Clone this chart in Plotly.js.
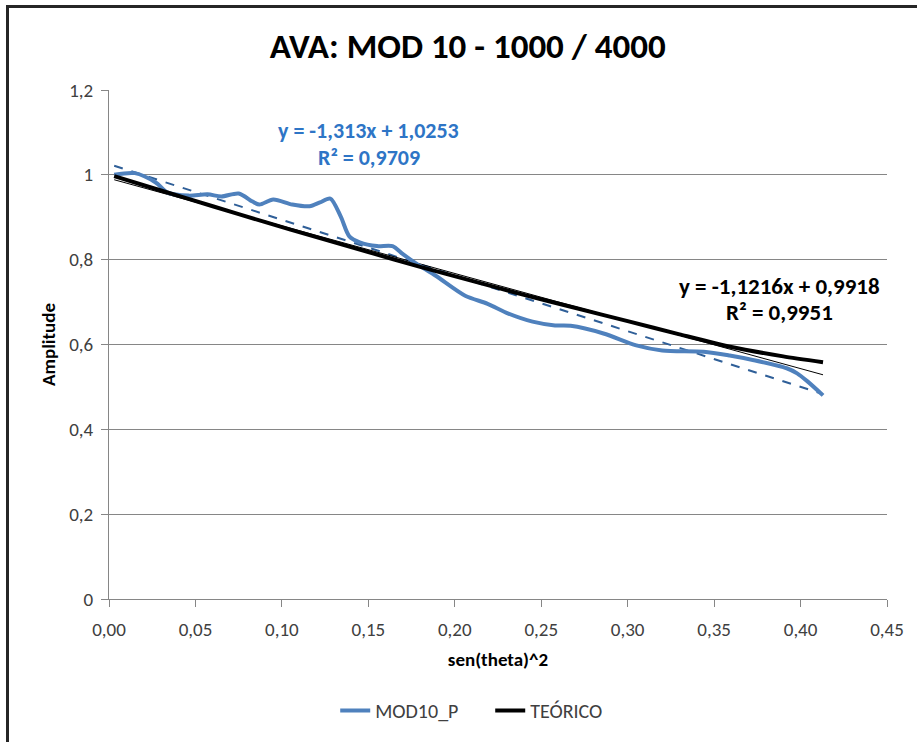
<!DOCTYPE html>
<html>
<head>
<meta charset="utf-8">
<script src="https://cdn.plot.ly/plotly-3.0.1.min.js"></script>
<style>
  html, body { margin: 0; padding: 0; background: #ffffff; overflow: hidden; }
  #chart { position: absolute; left: 0; top: 0; width: 917px; height: 742px; }
  #frame { position: absolute; left: 6px; top: 5px; width: 1000px; height: 1000px;
           border: 3px solid #262626; pointer-events: none; background: transparent; }
</style>
</head>
<body>
<div id="chart"></div>
<div id="frame"></div>
<script>
// Measured series MOD10_P (sen(theta)^2 vs amplitude)
const modX = [0.003, 0.015, 0.027, 0.034, 0.046, 0.057, 0.065, 0.075, 0.083, 0.087,
              0.095, 0.106, 0.116, 0.122, 0.128, 0.134, 0.139, 0.145, 0.155, 0.164,
              0.170, 0.178, 0.189, 0.206, 0.219, 0.231, 0.245, 0.258, 0.267, 0.286,
              0.305, 0.320, 0.344, 0.359, 0.373, 0.392, 0.398, 0.404, 0.413];
const modY = [1.000, 1.004, 0.982, 0.958, 0.951, 0.954, 0.949, 0.956, 0.937, 0.930,
              0.942, 0.930, 0.926, 0.935, 0.944, 0.902, 0.855, 0.841, 0.832, 0.832,
              0.813, 0.790, 0.762, 0.715, 0.696, 0.673, 0.654, 0.645, 0.644, 0.626,
              0.598, 0.586, 0.583, 0.574, 0.563, 0.544, 0.532, 0.513, 0.480];

// Theoretical series TEÓRICO
const teoX = [0.003, 0.03, 0.06, 0.09, 0.12, 0.15, 0.18, 0.21, 0.24, 0.27, 0.30, 0.33, 0.36, 0.39, 0.413];
const teoY = [0.997, 0.963, 0.926, 0.889, 0.853, 0.818, 0.783, 0.750, 0.717, 0.686, 0.655, 0.624, 0.594, 0.572, 0.558];

// Linear trend lines (from the equations shown)
const trendModSlope = -1.313, trendModIntercept = 1.0253, trendModR2 = "0,9709";
const trendTeoSlope = -1.1216, trendTeoIntercept = 0.9918, trendTeoR2 = "0,9951";
const trendX = [0.003, 0.413];
const trendModY = trendX.map(x => trendModSlope * x + trendModIntercept);
const trendTeoY = trendX.map(x => trendTeoSlope * x + trendTeoIntercept);

const xTicks = [0, 0.05, 0.10, 0.15, 0.20, 0.25, 0.30, 0.35, 0.40, 0.45];
const yTicks = [0, 0.2, 0.4, 0.6, 0.8, 1.0, 1.2];

const FONT = "Carlito, Calibri, Lato, 'Open Sans', sans-serif";

const traces = [
  { x: trendX, y: trendModY, mode: 'lines', showlegend: false, hoverinfo: 'skip',
    line: { color: '#2F5F98', width: 2, dash: 'dash' } },
  { x: trendX, y: trendTeoY, mode: 'lines', showlegend: false, hoverinfo: 'skip',
    line: { color: '#000000', width: 1 } },
  { x: modX, y: modY, mode: 'lines', name: 'MOD10_P',
    line: { color: '#4F81BD', width: 4, shape: 'spline', smoothing: 0.8 } },
  { x: teoX, y: teoY, mode: 'lines', name: 'TEÓRICO',
    line: { color: '#000000', width: 4, shape: 'spline', smoothing: 0.6 } }
];

const layout = {
  width: 917, height: 742,
  margin: { l: 109, r: 30, t: 90, b: 140, pad: 0 },
  paper_bgcolor: '#ffffff', plot_bgcolor: '#ffffff',
  separators: ', ',
  font: { family: FONT, size: 19, color: '#404040' },
  title: { text: '<b>AVA: MOD 10 - 1000 / 4000</b>', x: 0.51, xanchor: 'center', y: 0.938, yanchor: 'middle',
           font: { family: FONT, size: 35, color: '#000000' } },
  xaxis: {
    range: [0, 0.45], tickvals: xTicks, tickformat: '.2f',
    showgrid: false, zeroline: false,
    showline: true, linecolor: '#868686', linewidth: 1,
    ticks: 'outside', ticklen: 7, tickcolor: '#868686', ticklabelstandoff: 6,
    tickfont: { family: FONT, size: 19, color: '#404040' },
    title: { text: '<b>sen(theta)^2</b>', standoff: 12, font: { family: FONT, size: 19, color: '#000000' } }
  },
  yaxis: {
    range: [0, 1.2], tickvals: yTicks,
    showgrid: true, gridcolor: '#868686', gridwidth: 1, zeroline: false,
    showline: true, linecolor: '#868686', linewidth: 1,
    ticks: 'outside', ticklen: 7, tickcolor: '#868686', ticklabelstandoff: 4,
    tickfont: { family: FONT, size: 19, color: '#404040' },
    title: { text: '<b>Amplitude</b>', standoff: 8, font: { family: FONT, size: 19, color: '#000000' } }
  },
  legend: { orientation: 'h', x: 0.49, xanchor: 'center', y: -0.219, yanchor: 'middle',
            entrywidth: 110, entrywidthmode: 'pixels',
            font: { family: FONT, size: 20, color: '#404040' }, bgcolor: 'rgba(0,0,0,0)' },
  hovermode: false,
  annotations: [
    { xref: 'x', yref: 'y', x: 0.1502, y: 1.105, showarrow: false, xanchor: 'center',
      text: '<b>y = ' + String(trendModSlope).replace('.', ',') + 'x + ' + String(trendModIntercept).replace('.', ',') + '</b>',
      font: { family: FONT, size: 22, color: '#2E75C6' } },
    { xref: 'x', yref: 'y', x: 0.1502, y: 1.042, showarrow: false, xanchor: 'center',
      text: '<b>R² = ' + trendModR2 + '</b>',
      font: { family: FONT, size: 22, color: '#2E75C6' } },
    { xref: 'x', yref: 'y', x: 0.3878, y: 0.738, showarrow: false, xanchor: 'center',
      text: '<b>y = ' + String(trendTeoSlope).replace('.', ',') + 'x + ' + String(trendTeoIntercept).replace('.', ',') + '</b>',
      font: { family: FONT, size: 23, color: '#000000' } },
    { xref: 'x', yref: 'y', x: 0.3878, y: 0.677, showarrow: false, xanchor: 'center',
      text: '<b>R² = ' + trendTeoR2 + '</b>',
      font: { family: FONT, size: 23, color: '#000000' } }
  ]
};

Plotly.newPlot('chart', traces, layout, { displayModeBar: false, staticPlot: true });
</script>
</body>
</html>
